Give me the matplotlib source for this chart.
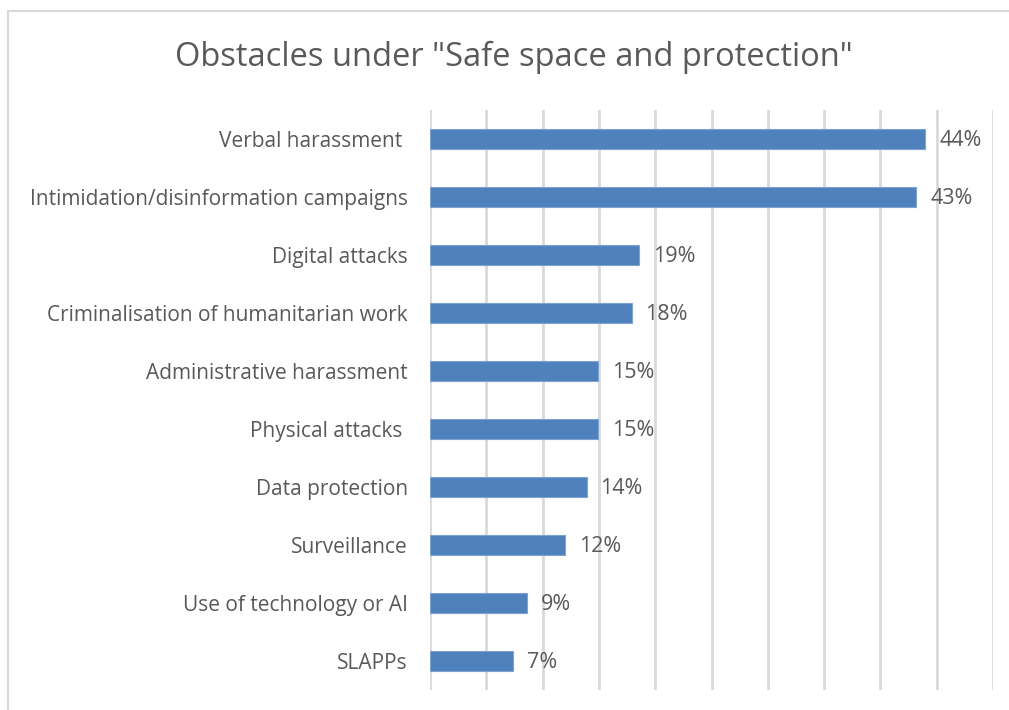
import matplotlib
matplotlib.use('Agg')
import matplotlib.pyplot as plt
from matplotlib.lines import Line2D

# data (top to bottom)
categories = ['Verbal harassment ', 'Intimidation/disinformation campaigns',
              'Digital attacks', 'Criminalisation of humanitarian work',
              'Administrative harassment', 'Physical attacks ',
              'Data protection', 'Surveillance', 'Use of technology or AI',
              'SLAPPs']
values = [44.0, 43.2, 18.6, 17.9, 14.9, 14.9, 13.9, 12.0, 8.6, 7.4]
value_labels = ['44%', '43%', '19%', '18%', '15%', '15%', '14%', '12%',
                '9%', '7%']

text_color = '#595959'
bar_color = '#4f81bd'
grid_color = '#d9d9d9'

plt.rcParams['font.family'] = ['Open Sans', 'DejaVu Sans']

fig = plt.figure(figsize=(10.09, 7.1), dpi=100)
ax = fig.add_axes([430 / 1009, 20 / 710, 563 / 1009, 580 / 710])

# chart area border (only top and left visible in the crop)
bx, by = 8 / 1009, 1 - 11 / 710
fig.lines.append(Line2D([bx, 1.0], [by, by], transform=fig.transFigure,
                        color='#d9d9d9', linewidth=1.5))
fig.lines.append(Line2D([bx, bx], [0.0, by], transform=fig.transFigure,
                        color='#d9d9d9', linewidth=1.5))

pos = list(range(len(categories)))
ax.barh(pos, values, height=0.35, color=bar_color,
        edgecolor='#7ea3d3', linewidth=0.8, zorder=3)

for p, v, lab in zip(pos, values, value_labels):
    ax.annotate(lab, (v, p), xytext=(10, -1), textcoords='offset points',
                va='center', ha='left', fontsize=15.5, color=text_color)

ax.set_xlim(0, 50)
ax.set_ylim(len(categories) - 0.5, -0.5)
ax.set_xticks(range(0, 51, 5))
ax.set_xticklabels([])
ax.set_yticks(pos)
ax.set_yticklabels(categories, fontsize=15, color=text_color)
ax.tick_params(axis='both', length=0)
ax.tick_params(axis='y', pad=16)
ax.grid(axis='x', color=grid_color, linewidth=2, zorder=0)
for s in ax.spines.values():
    s.set_visible(False)

fig.text(514 / 1009, 1 - 57 / 710, 'Obstacles under "Safe space and protection"',
         ha='center', va='center', fontsize=23.5, color=text_color)

fig.savefig('out.png', dpi=100)
